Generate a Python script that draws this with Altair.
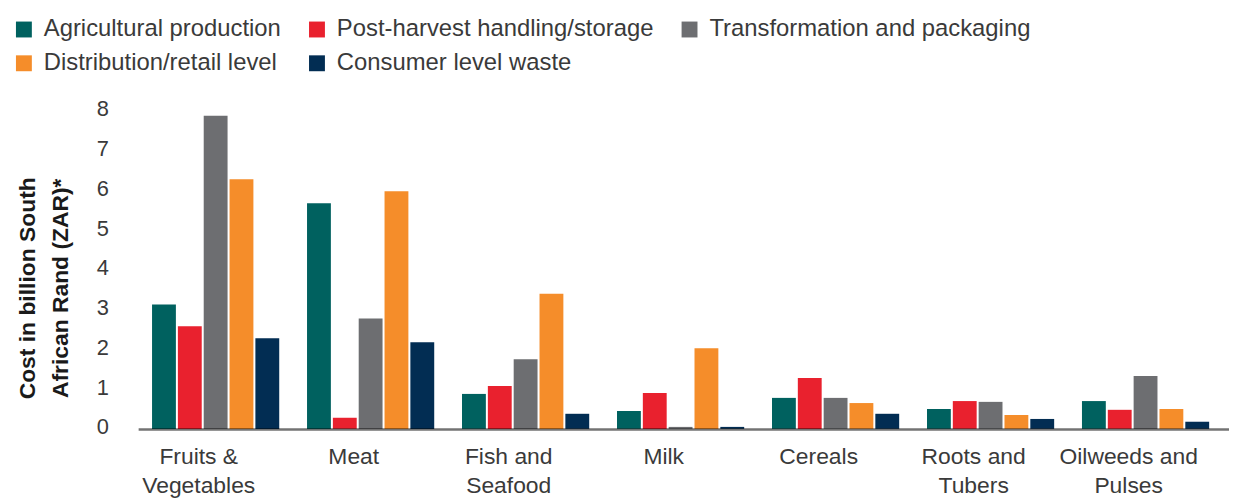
import json
import altair as alt
import pandas as pd

categories = ["Fruits & Vegetables", "Meat", "Fish and Seafood", "Milk",
              "Cereals", "Roots and Tubers", "Oilweeds and Pulses"]
category_lines = [["Fruits &", "Vegetables"], ["Meat"], ["Fish and", "Seafood"], ["Milk"],
                  ["Cereals"], ["Roots and", "Tubers"], ["Oilweeds and", "Pulses"]]
series = ["Agricultural production", "Post-harvest handling/storage",
          "Transformation and packaging", "Distribution/retail level",
          "Consumer level waste"]
colors = ["#00615f", "#e9212e", "#6d6e71", "#f58d2a", "#022d53"]

agricultural = [3.13, 5.68, 0.88, 0.45, 0.78, 0.50, 0.70]
post_harvest = [2.58, 0.28, 1.08, 0.90, 1.28, 0.70, 0.48]
transformation = [7.88, 2.78, 1.75, 0.05, 0.78, 0.68, 1.33]
distribution = [6.28, 5.98, 3.40, 2.03, 0.65, 0.35, 0.50]
consumer = [2.28, 2.18, 0.38, 0.05, 0.38, 0.25, 0.18]
y_ticks = [0, 1, 2, 3, 4, 5, 6, 7, 8]

values = [agricultural, post_harvest, transformation, distribution, consumer]
rows = []
for s, vals in zip(series, values):
    for c, v in zip(categories, vals):
        rows.append({"category": c, "series": s, "value": v})
df = pd.DataFrame(rows)

parts = [f"datum.value == {json.dumps(c)} ? {json.dumps(l)}" for c, l in zip(categories, category_lines)]
label_expr = " : ".join(parts) + " : datum.label"

FONT = "Liberation Sans"
TXT = "#3a3a3a"

chart = alt.Chart(df).mark_bar().encode(
    x=alt.X("category:N", sort=categories,
            scale=alt.Scale(paddingInner=0, paddingOuter=0.0192, align=0),
            axis=alt.Axis(title=None, labelAngle=0, ticks=False, tickSize=0,
                          labelExpr=label_expr, labelFont=FONT, labelFontSize=23,
                          labelColor=TXT, labelPadding=17, labelLineHeight=29,
                          labelOffset=-17, labelBaseline="top",
                          domain=True, domainColor="#000000", domainOpacity=0.55,
                          domainWidth=2.5, zindex=1)),
    xOffset=alt.XOffset("series:N", sort=series,
                        scale=alt.Scale(paddingInner=0.077, paddingOuter=0.538)),
    y=alt.Y("value:Q", scale=alt.Scale(domain=[0, 8], nice=False),
            axis=alt.Axis(values=y_ticks, grid=False, domain=False, ticks=False,
                          tickSize=0, labelFont=FONT, labelFontSize=22,
                          labelColor=TXT, labelAlign="center", labelPadding=36,
                          labelOffset=-2,
                          title=["Cost in billion South", "African Rand (ZAR)*"],
                          titleFont=FONT, titleFontSize=23, titleFontWeight="bold",
                          titleColor="#1a1a1a", titleAngle=-90, titleAlign="center",
                          titleBaseline="alphabetic", titleLineHeight=33,
                          titleX=-104, titleY=178)),
    color=alt.Color("series:N", sort=series,
                    scale=alt.Scale(domain=series, range=colors),
                    legend=alt.Legend(title=None, orient="none", legendX=-127,
                                      legendY=-94, columns=3, direction="horizontal",
                                      symbolType="square",
                                      symbolSize=256, symbolStrokeWidth=0,
                                      symbolOpacity=1, labelFont=FONT,
                                      labelFontSize=24, labelColor=TXT,
                                      labelOffset=8, labelLimit=600,
                                      columnPadding=24, rowPadding=10)),
).properties(
    width=1098, height=320,
    autosize=alt.AutoSizeParams(type="none"),
    padding={"left": 131, "top": 102, "right": 0, "bottom": 80},
).configure_view(stroke=None)

chart.save("out.html", embed_options={"renderer": "svg", "actions": False})
